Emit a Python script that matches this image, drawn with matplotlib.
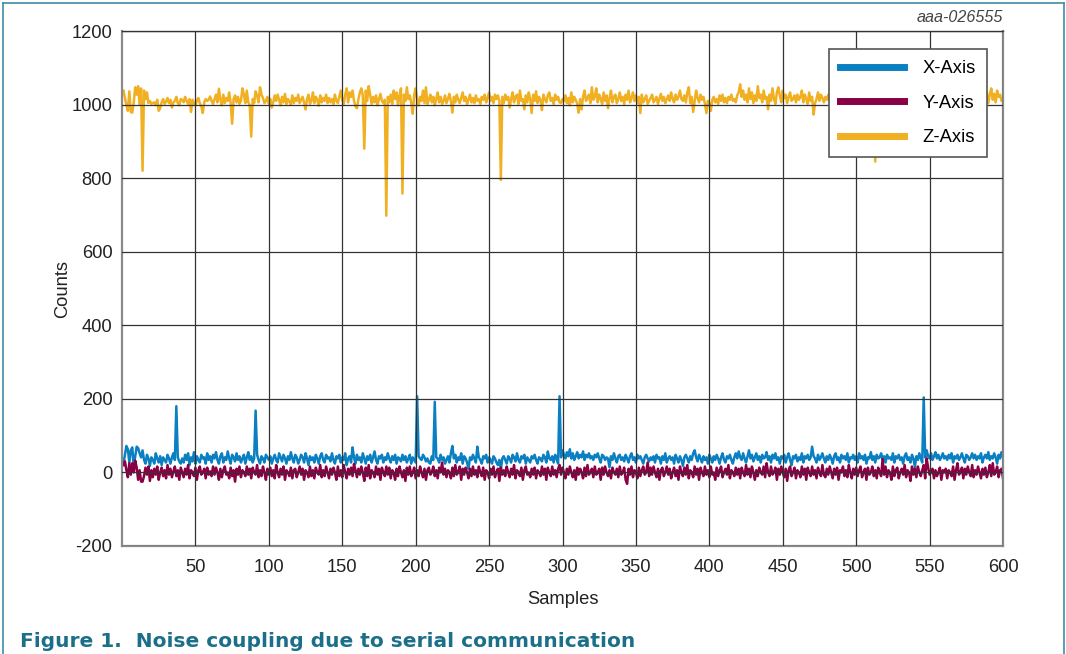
import numpy as np
import matplotlib
matplotlib.use("Agg")
import matplotlib.pyplot as plt
from matplotlib.lines import Line2D

plt.rcParams["font.family"] = ["Liberation Sans", "DejaVu Sans"]
plt.rcParams["axes.unicode_minus"] = False

# ---- data -------------------------------------------------------------
samples = np.arange(1, 601)

x_counts = [
    24, 48, 72, 63, 27, 60, 68, 15, 44, 70, 66, 52, 41, 60, 34, 24, 48, 38, 18, 41,
    34, 24, 52, 38, 27, 44, 20, 41, 34, 27, 48, 38, 24, 41, 52, 34, 180, 41, 30, 24,
    38, 27, 48, 34, 52, 20, 41, 30, 55, 24, 44, 34, 27, 48, 38, 41, 24, 52, 34, 44,
    27, 48, 38, 55, 34, 24, 44, 52, 27, 41, 34, 57, 38, 24, 48, 41, 30, 52, 34, 44,
    27, 38, 48, 24, 41, 55, 34, 44, 27, 38, 168, 48, 34, 24, 44, 38, 27, 48, 41, 34,
    44, 24, 38, 48, 34, 27, 52, 41, 30, 48, 38, 24, 44, 34, 55, 38, 27, 48, 41, 24,
    34, 48, 41, 27, 52, 38, 20, 44, 34, 41, 27, 48, 38, 24, 44, 52, 34, 27, 48, 38,
    41, 30, 52, 34, 24, 44, 38, 48, 27, 41, 34, 52, 20, 38, 44, 27, 68, 41, 24, 48,
    34, 41, 27, 52, 38, 24, 44, 34, 48, 27, 41, 57, 34, 24, 44, 38, 48, 27, 41, 34,
    52, 38, 27, 44, 34, 48, 24, 41, 38, 30, 48, 34, 44, 27, 38, 48, 24, 41, 34, 27,
    207, 44, 38, 34, 48, 41, 30, 38, 27, 24, 44, 34, 192, 41, 38, 27, 48, 34, 41, 24,
    34, 44, 27, 52, 72, 38, 48, 27, 41, 34, 52, 24, 44, 38, 27, 10, 41, 34, 48, 38,
    27, 70, 41, 34, 24, 44, 38, 48, 27, 41, 34, 24, 44, 38, 27, 20, 34, 8, 38, 44,
    34, 24, 44, 38, 27, 48, 41, 30, 52, 34, 27, 44, 38, 48, 24, 41, 34, 27, 44, 38,
    48, 34, 24, 41, 38, 30, 48, 41, 27, 57, 38, 34, 44, 27, 48, 38, 24, 207, 41, 60,
    48, 38, 55, 44, 63, 38, 52, 34, 44, 55, 38, 48, 41, 57, 34, 48, 41, 52, 38, 44,
    34, 48, 41, 52, 38, 27, 48, 44, 34, 41, 38, 14, 44, 34, 52, 38, 27, 44, 48, 34,
    41, 30, 48, 38, 27, 44, 52, 34, 41, 27, 48, 38, 44, 34, 24, 41, 48, 38, 30, 41,
    34, 44, 27, 48, 38, 41, 24, 44, 34, 52, 27, 38, 44, 34, 41, 24, 48, 38, 27, 44,
    34, 18, 41, 48, 38, 27, 44, 34, 52, 60, 41, 30, 48, 38, 27, 44, 34, 41, 24, 48,
    38, 27, 44, 34, 48, 38, 24, 41, 52, 34, 27, 44, 38, 48, 34, 24, 41, 52, 38, 57,
    41, 34, 52, 38, 27, 44, 60, 38, 48, 30, 41, 52, 34, 44, 27, 48, 38, 41, 55, 34,
    44, 27, 48, 38, 52, 34, 41, 24, 44, 38, 48, 27, 41, 52, 34, 20, 44, 38, 48, 30,
    41, 34, 52, 27, 44, 38, 48, 34, 41, 70, 44, 38, 27, 48, 34, 41, 52, 38, 27, 44,
    34, 48, 38, 24, 44, 52, 34, 41, 27, 48, 38, 44, 34, 52, 27, 41, 38, 48, 34, 44,
    27, 52, 38, 44, 34, 48, 24, 41, 38, 55, 34, 44, 27, 48, 38, 41, 52, 34, 44, 27,
    48, 38, 41, 34, 52, 27, 44, 38, 48, 34, 41, 24, 44, 52, 34, 41, 27, 48, 38, 15,
    44, 34, 52, 38, 27, 204, 41, 60, 44, 38, 52, 34, 44, 55, 38, 48, 34, 41, 52, 38,
    44, 34, 48, 38, 52, 27, 44, 38, 48, 34, 41, 52, 38, 27, 48, 44, 34, 41, 52, 38,
    48, 34, 44, 38, 52, 27, 41, 48, 38, 55, 34, 44, 38, 52, 41, 24, 48, 38, 55, 44,
]

y_counts = [
    20, 30, 6, -13, 25, -6, 25, 0, 32, 13, -20, 6, -25, -25, -10, 13, -6, 16, -23, 6,
    -13, 10, -6, 16, -20, 0, 13, -10, 6, -16, 20, -6, 10, -13, 3, 16, -10, 6, -20, 13,
    0, -13, 10, -6, 20, -16, 6, 0, -10, 13, -20, 6, 16, -6, 0, 10, -16, 13, -6, 3,
    -10, 16, -6, 13, 0, -20, 10, -13, 6, 16, -6, 0, -16, 13, -10, 6, -25, 10, -6, 16,
    -13, 6, 0, -10, 16, -6, 10, -16, 13, 0, -6, 20, -13, 6, -10, 16, 0, -20, 10, -6,
    13, -10, 6, -16, 20, 0, -13, 10, -6, 16, -20, 6, 0, -10, 13, -16, 6, 10, -13, 0,
    16, -6, 10, -20, 6, 0, -13, 16, -10, 6, -16, 13, 0, -6, 20, -13, 6, -10, 16, 0,
    -16, 10, -6, 13, 0, -20, 16, -10, 6, -13, 20, 0, -16, 10, -6, 13, -10, 23, 6, -13,
    10, -6, 16, 0, -23, 13, -10, 20, -16, 6, 0, -13, 16, -6, 10, -20, 13, 0, -10, 16,
    -6, 13, -16, 6, 0, -20, 10, -10, 16, 0, -13, 6, -23, 13, -6, 16, -10, 0, 13, -16,
    6, -10, 16, 0, -13, 10, -20, 6, 13, -6, 0, 16, -10, 6, -16, 13, 0, 27, -6, 10,
    -13, 6, 0, -16, 13, -10, 20, -6, 0, 16, -20, 10, -6, 13, 0, -16, 10, -10, 16, -6,
    6, -13, 16, 0, -10, 13, -20, 6, 0, -16, 10, -6, 16, -13, 0, 10, -23, 13, -6, 6,
    -10, 16, 0, -13, 10, -6, 20, -16, 6, 0, -10, 13, -20, 6, 16, -6, 0, -13, 10, -6,
    13, -16, 6, 0, -10, 16, -6, 10, -20, 13, 0, -10, 16, -6, 6, -13, 10, 20, -6, 13,
    0, -16, 10, -6, 16, 0, -13, 6, -20, 13, -6, 10, 0, -16, 13, -10, 20, -6, 0, 10,
    -13, 16, -6, 0, 10, -20, 13, -6, 16, 0, -10, 6, -16, 13, 0, -6, 10, -13, 16, -6,
    0, 13, -20, -31, 10, -6, 16, -13, 6, 0, -16, 13, -10, 6, 16, -6, 0, 27, -10, 13,
    -6, 16, 0, -13, 10, -20, 6, 13, -10, 0, 16, -6, 10, -16, 0, 13, -10, 6, -20, 16,
    0, -10, 13, -6, 20, -16, 6, 0, -13, 16, -6, 10, -20, 13, 0, -10, 16, -6, 6, -13,
    16, -6, 0, -20, 13, -10, 6, 16, -13, 0, 10, -6, 20, -16, 6, 0, -10, 13, -6, 10,
    -16, 13, 0, -10, 20, -6, 10, -13, 16, 0, -20, 6, -10, 13, 0, -6, 16, -13, 25, 0,
    -10, 16, -6, 0, 13, -20, 10, -6, 16, 0, -13, 10, -23, 6, 16, -10, 0, 13, -16, 6,
    0, -13, 16, -6, 10, -20, 13, 0, -10, 16, -6, 6, -16, 13, 0, -10, 20, -6, -13, 10,
    -6, 16, 0, -16, 10, -6, 13, -20, 6, 0, 16, -10, 6, -13, 20, 0, -16, 10, -6, 13,
    -10, 6, 16, -13, 0, 10, -20, 13, -6, 0, 16, -10, 6, -16, 13, 0, -10, 36, -6, 16,
    -13, 6, 0, -20, 16, -10, 6, 13, -16, 0, 10, -6, 20, -13, 6, 0, -23, 16, -6, 10,
    -13, 16, 0, -10, 6, 20, -16, 38, 13, -6, 0, 10, -16, 6, -10, 0, 13, -20, 6, 0,
    10, -16, 6, 0, -10, 16, -20, 6, 25, -6, 0, 13, -16, 10, -6, 16, 0, -10, 20, -13,
    6, -6, 16, 0, -16, 10, -6, 13, -13, 0, 20, -10, 25, -6, 0, 16, -13, 6, 10, -16,
]

z_counts = [
    1038, 1018, 998, 983, 1036, 980, 978, 1006, 1047, 1027, 1050, 1000, 1044, 820, 1038, 1015, 1033, 1004, 1010, 1002,
    1004, 1006, 998, 1013, 983, 990, 1006, 1015, 1002, 1008, 1018, 1004, 1013, 992, 1006, 1010, 1021, 1004, 998, 1015,
    1013, 1006, 1021, 1010, 1002, 1015, 980, 1013, 1004, 998, 1011, 1018, 1004, 995, 977, 1006, 1015, 1010, 1013, 1022,
    1010, 1002, 1015, 1027, 1006, 1043, 1013, 998, 1027, 1004, 1018, 1010, 1033, 1004, 948, 1015, 1025, 1006, 1021, 1002,
    1010, 1044, 1027, 1004, 1038, 1006, 998, 913, 1015, 1004, 1036, 1025, 1006, 1047, 1027, 1018, 1004, 1010, 1021, 1002,
    1015, 992, 1006, 1025, 1010, 1027, 1013, 998, 1021, 1006, 1029, 1002, 1015, 1008, 1000, 1025, 1004, 1018, 1010, 1027,
    1004, 1013, 1021, 1006, 987, 1015, 1027, 1002, 1010, 1033, 1004, 1021, 1013, 997, 1025, 1006, 1018, 1010, 1027, 1004,
    1018, 1006, 1015, 1002, 1027, 1010, 1004, 1021, 1038, 1013, 1002, 1027, 1044, 1006, 1033, 1021, 1038, 1010, 995, 990,
    1015, 1033, 1044, 1025, 880, 1038, 1010, 1050, 1027, 1002, 1021, 1006, 1025, 998, 1015, 1029, 1010, 1004, 1013, 698,
    1021, 1006, 1027, 1002, 1038, 1015, 1033, 998, 1025, 1044, 758, 1027, 1010, 1047, 1015, 1025, 1004, 975, 1027, 1044,
    1015, 998, 1021, 1010, 1038, 1004, 1047, 1002, 1013, 1027, 1006, 1021, 998, 1015, 1033, 1006, 1021, 1002, 1010, 1025,
    1004, 1015, 1029, 1010, 978, 1021, 1006, 1027, 1013, 1004, 1018, 1033, 1010, 1021, 1002, 1013, 1027, 1006, 1018, 1004,
    1025, 1010, 1015, 1002, 1021, 1013, 1027, 1006, 1018, 1033, 1010, 1021, 1004, 1027, 1015, 1025, 1010, 795, 1021, 1004,
    1027, 1013, 1021, 992, 1015, 1033, 1006, 1021, 1027, 1002, 1038, 1010, 1015, 987, 1025, 1006, 1033, 1015, 977, 1027,
    1010, 1036, 1004, 1021, 1013, 985, 1027, 1015, 1006, 1025, 1033, 1010, 1018, 1002, 1027, 1013, 1021, 1006, 1004, 1015,
    1010, 1025, 1004, 1018, 998, 1033, 1006, 1021, 1013, 1002, 978, 1015, 987, 1021, 1038, 1010, 1018, 1027, 1004, 1047,
    1013, 1021, 1044, 1006, 1027, 1015, 1002, 1033, 1010, 1025, 990, 1018, 1038, 1006, 1021, 1027, 1004, 1015, 1033, 1010,
    1021, 1002, 1027, 1013, 1038, 1006, 1018, 1033, 1010, 1025, 1004, 1021, 977, 1027, 1006, 1015, 1025, 1002, 1010, 1018,
    1027, 1006, 1013, 1021, 1002, 1015, 1029, 1010, 1021, 1004, 1015, 1025, 1010, 1033, 1015, 1006, 1027, 1013, 1021, 1038,
    1015, 1010, 1025, 1006, 1033, 1047, 1004, 1021, 980, 1010, 1038, 1018, 1006, 1027, 1013, 1021, 1002, 977, 1010, 1004,
    983, 1013, 1021, 1006, 1015, 1002, 1025, 1010, 1027, 1006, 1018, 1004, 1021, 1013, 1027, 1010, 1015, 1006, 1025, 1033,
    1055, 1021, 1038, 1013, 1027, 1006, 1044, 1015, 1033, 1004, 1025, 1010, 1050, 1018, 1027, 1006, 1038, 1015, 1021, 987,
    1027, 1010, 1044, 1015, 1002, 1033, 1047, 1025, 1006, 1038, 1018, 1027, 1004, 1021, 1033, 1010, 1015, 1025, 1006, 1027,
    1013, 1021, 1038, 1006, 1027, 1015, 1002, 1033, 1010, 1021, 973, 1004, 1015, 1033, 1010, 1027, 1018, 1006, 1021, 1013,
    1027, 1010, 1018, 1002, 1033, 1015, 1006, 1025, 1013, 1021, 1004, 1027, 1015, 1010, 1025, 1006, 1021, 1013, 1027, 1010,
    1018, 1004, 1025, 1013, 1021, 1006, 1027, 1010, 1015, 1002, 1021, 1013, 845, 1027, 1010, 1018, 1004, 1025, 1013, 1021,
    1006, 1027, 1015, 1010, 1025, 1004, 1021, 1013, 1027, 1006, 1018, 1010, 1025, 1002, 1021, 1015, 1027, 1010, 1018, 1004,
    1025, 1013, 1021, 1006, 1027, 1015, 1010, 1025, 1004, 1021, 1013, 1027, 1006, 1018, 1010, 1025, 1015, 1004, 1021, 1013,
    1027, 1010, 1018, 1006, 1025, 1013, 1021, 1004, 1027, 1015, 1010, 1025, 1006, 1018, 1013, 1027, 1010, 1021, 1004, 1015,
    1025, 1010, 1038, 1015, 1027, 1006, 1047, 1021, 1033, 1004, 1027, 1044, 1013, 1029, 1006, 1038, 1021, 1027, 1010, 1015,
]

series_labels = ["X-Axis", "Y-Axis", "Z-Axis"]
series_colors = ["#0a80c2", "#8a0044", "#f0b022"]

x_ticks = [50, 100, 150, 200, 250, 300, 350, 400, 450, 500, 550, 600]
y_ticks = [-200, 0, 200, 400, 600, 800, 1000, 1200]

# ---- figure -----------------------------------------------------------
W, H = 1066, 654
FS = 13.2
fig = plt.figure(figsize=(W / 100, H / 100), dpi=100)
ax = fig.add_axes([122 / W, 1 - 546 / H, 881 / W, 515 / H])

for vals, lab, col in zip([x_counts, y_counts, z_counts], series_labels, series_colors):
    ax.plot(samples, vals, color=col, lw=1.8, label=lab)

ax.set_xlim(0, 600)
ax.set_ylim(-200, 1200)
ax.set_xticks(x_ticks)
ax.set_yticks(y_ticks)
ax.tick_params(length=0, labelsize=FS, colors="#222222")
ax.tick_params(axis="x", pad=9.5)
ax.tick_params(axis="y", pad=7)

ax.grid(True, color="#333333", lw=0.9)
ax.set_axisbelow(False)
for side in ["left", "bottom", "right"]:
    ax.spines[side].set_color("#8a8a8a")
    ax.spines[side].set_linewidth(1.6)
ax.spines["top"].set_color("#444444")
ax.spines["top"].set_linewidth(1.0)

ax.set_xlabel("Samples", fontsize=FS, color="#222222", labelpad=11)
ax.set_ylabel("Counts", fontsize=FS, color="#222222", labelpad=0)

leg = ax.legend(loc="upper right", bbox_to_anchor=(0.9815, 0.9645),
                borderaxespad=0, fontsize=FS, handlelength=3.5,
                handletextpad=1.0, labelspacing=0.95, borderpad=0.6,
                fancybox=False, framealpha=1, edgecolor="#555555")
leg.get_frame().set_linewidth(1.2)
for h in leg.get_lines():
    h.set_linewidth(5)

fig.text(1003 / W, 1 - 18 / H, "aaa-026555", ha="right", va="center",
         fontsize=11.6, style="italic", color="#444444")

fig.text(20 / W, 1 - 647 / H, "Figure 1.  Noise coupling due to serial communication",
         ha="left", va="baseline", fontsize=14.5, fontweight="bold",
         color="#1b6f88", family="DejaVu Sans")

# outer frame around the figure
frame_col = "#3d8ea8"
for xs, ys in [([2.5 / W, 2.5 / W], [0, 1 - 2.5 / H]),
               ([2.5 / W, 1 - 2.5 / W], [1 - 2.5 / H, 1 - 2.5 / H]),
               ([1 - 2.5 / W, 1 - 2.5 / W], [0, 1 - 2.5 / H])]:
    fig.add_artist(Line2D(xs, ys, transform=fig.transFigure, color=frame_col, lw=1.2))

fig.savefig("out.png", dpi=100)
